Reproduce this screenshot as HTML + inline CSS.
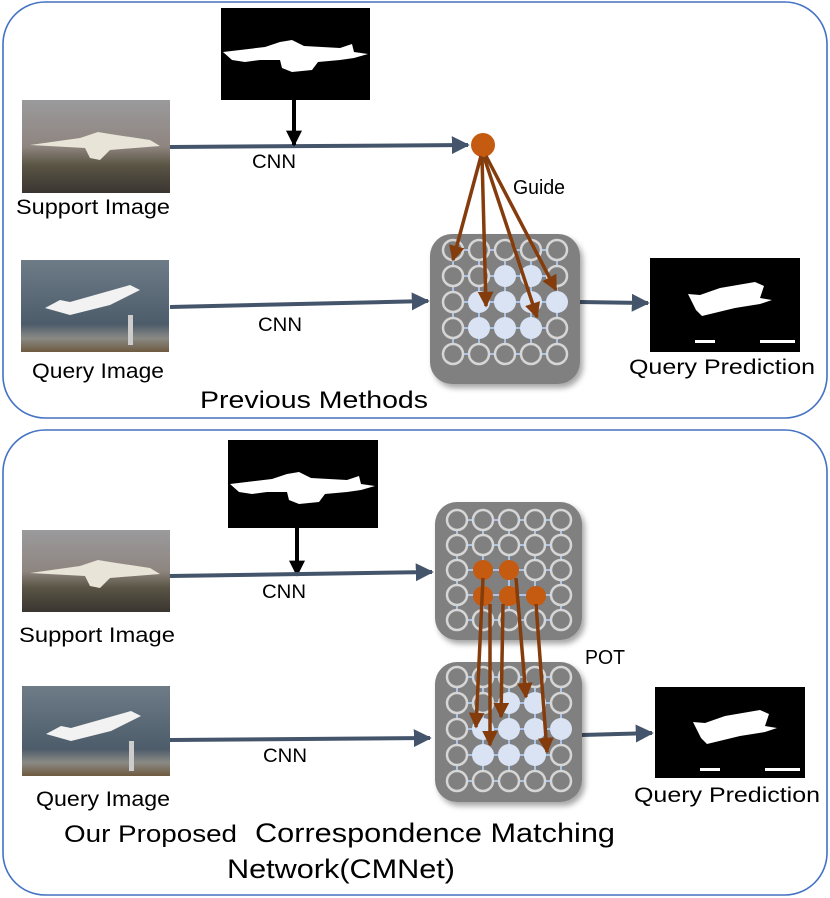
<!DOCTYPE html>
<html><head><meta charset="utf-8"><style>html,body{margin:0;padding:0;background:#fff}svg{display:block}text{font-family:"Liberation Sans","DejaVu Sans",sans-serif;fill:#000}</style></head><body>
<svg width="830" height="898" viewBox="0 0 830 898" xmlns="http://www.w3.org/2000/svg">
<defs>
<marker id="ab" viewBox="0 0 10 10" refX="9" refY="5" markerWidth="4.5" markerHeight="4.5" orient="auto"><path d="M0,0L10,5L0,10z" fill="#44546a"/></marker>
<marker id="ak" viewBox="0 0 10 10" refX="9" refY="5" markerWidth="4" markerHeight="4" orient="auto"><path d="M0,0L10,5L0,10z" fill="#000"/></marker>
<marker id="ao" viewBox="0 0 10 10" refX="9" refY="5" markerWidth="4.5" markerHeight="4.5" orient="auto"><path d="M0,0L10,5L0,10z" fill="#843c0c"/></marker>
<linearGradient id="sup" x1="0" y1="0" x2="0" y2="1"><stop offset="0" stop-color="#9a9a9c"/><stop offset="0.5" stop-color="#8f8580"/><stop offset="0.7" stop-color="#5a5545"/><stop offset="1" stop-color="#3a3530"/></linearGradient>
<linearGradient id="qry" x1="0" y1="0" x2="0" y2="1"><stop offset="0" stop-color="#6e7c88"/><stop offset="0.7" stop-color="#4d5c6a"/><stop offset="0.85" stop-color="#8a8a85"/><stop offset="1" stop-color="#6e5a40"/></linearGradient>
<filter id="sh" x="-10%" y="-10%" width="130%" height="130%"><feDropShadow dx="3" dy="4" stdDeviation="3" flood-opacity="0.35"/></filter>
</defs>

<rect x="3" y="2" width="824" height="416" rx="42" fill="none" stroke="#4472c4" stroke-width="1.6"/>
<rect x="3" y="430" width="824" height="465" rx="42" fill="none" stroke="#4472c4" stroke-width="1.6"/>

<!-- TOP -->
<rect x="221" y="8" width="149" height="92" fill="#000"/>
<path d="M223,52 L265,47 L280,42 L292,40 L304,46 L340,48 L352,44 L354,52 L368,54 L354,58 L340,60 L318,62 L312,70 L292,72 L282,68 L280,60 L260,60 L245,62 L232,60 Z" fill="#fff"/>
<rect x="22" y="100" width="148" height="93" fill="url(#sup)"/>
<path d="M30,145 L80,138 L98,132 L110,134 L150,140 L160,146 L110,150 L100,160 L90,158 L85,148 Z" fill="#e8e4d8"/>
<rect x="21" y="260" width="148" height="92" fill="url(#qry)"/>
<path d="M45,308 L60,300 L70,302 L130,285 L140,290 L110,305 L70,315 Z" fill="#f2f2f2"/>
<rect x="128" y="315" width="5" height="30" fill="#ccc"/>
<line x1="170" y1="147" x2="468" y2="145" stroke="#44546a" stroke-width="4" marker-end="url(#ab)"/>
<line x1="294" y1="100" x2="294" y2="145" stroke="#000" stroke-width="4" marker-end="url(#ak)"/>
<text x="252" y="168" font-size="19" textLength="44" lengthAdjust="spacingAndGlyphs">CNN</text>
<line x1="170" y1="307" x2="428" y2="301" stroke="#44546a" stroke-width="4" marker-end="url(#ab)"/>
<text x="258" y="331" font-size="19" textLength="44" lengthAdjust="spacingAndGlyphs">CNN</text>
<line x1="580" y1="302" x2="648" y2="303" stroke="#44546a" stroke-width="4" marker-end="url(#ab)"/>
<rect x="650" y="258" width="150" height="94" fill="#000"/>
<path d="M688,294 L700,295 L720,288 L755,282 L764,286 L760,298 L772,300 L760,304 L735,308 L702,316 L696,310 Z" fill="#fff"/>
<rect x="695" y="340" width="20" height="3" fill="#fff"/><rect x="760" y="340" width="35" height="3" fill="#fff"/>
<text x="16" y="214" font-size="21" textLength="154" lengthAdjust="spacingAndGlyphs">Support Image</text>
<text x="32" y="378" font-size="21" textLength="132" lengthAdjust="spacingAndGlyphs">Query Image</text>
<text x="629" y="374" font-size="21" textLength="186" lengthAdjust="spacingAndGlyphs">Query Prediction</text>
<text x="200" y="408" font-size="24" textLength="228" lengthAdjust="spacingAndGlyphs">Previous Methods</text>
<text x="513" y="194" font-size="20" textLength="52" lengthAdjust="spacingAndGlyphs">Guide</text>

<rect x="430" y="234" width="150" height="150" rx="22" fill="#808080" filter="url(#sh)"/>
<g stroke="#a9c4e8" stroke-width="2">
<line x1="453" y1="250" x2="557" y2="250"/><line x1="453" y1="276" x2="557" y2="276"/><line x1="453" y1="302" x2="557" y2="302"/><line x1="453" y1="328" x2="557" y2="328"/><line x1="453" y1="354" x2="557" y2="354"/>
<line x1="453" y1="250" x2="453" y2="354"/><line x1="479" y1="250" x2="479" y2="354"/><line x1="505" y1="250" x2="505" y2="354"/><line x1="531" y1="250" x2="531" y2="354"/><line x1="557" y1="250" x2="557" y2="354"/>
</g>
<g fill="#808080" stroke="#d6d6d6" stroke-width="2.5">
<circle cx="453" cy="250" r="10"/><circle cx="479" cy="250" r="10"/><circle cx="505" cy="250" r="10"/><circle cx="531" cy="250" r="10"/><circle cx="557" cy="250" r="10"/>
<circle cx="453" cy="276" r="10"/><circle cx="479" cy="276" r="10"/><circle cx="557" cy="276" r="10"/>
<circle cx="453" cy="302" r="10"/>
<circle cx="453" cy="328" r="10"/><circle cx="557" cy="328" r="10"/>
<circle cx="453" cy="354" r="10"/><circle cx="479" cy="354" r="10"/><circle cx="505" cy="354" r="10"/><circle cx="531" cy="354" r="10"/><circle cx="557" cy="354" r="10"/>
</g>
<g fill="#dae3f3">
<circle cx="505" cy="276" r="11"/><circle cx="531" cy="276" r="11"/>
<circle cx="479" cy="302" r="11"/><circle cx="505" cy="302" r="11"/><circle cx="531" cy="302" r="11"/><circle cx="557" cy="302" r="11"/>
<circle cx="479" cy="328" r="11"/><circle cx="505" cy="328" r="11"/><circle cx="531" cy="328" r="11"/>
</g>
<circle cx="483" cy="145" r="12" fill="#c55a11"/>
<g stroke="#843c0c" stroke-width="3.5" fill="none">
<line x1="481" y1="156" x2="453" y2="260" marker-end="url(#ao)"/>
<line x1="482" y1="157" x2="486" y2="306" marker-end="url(#ao)"/>
<line x1="484" y1="157" x2="537" y2="317" marker-end="url(#ao)"/>
<line x1="486" y1="156" x2="556" y2="290" marker-end="url(#ao)"/>
</g>

<!-- BOTTOM -->
<rect x="228" y="440" width="150" height="88" fill="#000"/>
<path d="M230,484 L272,479 L287,474 L299,472 L311,478 L347,480 L359,476 L361,484 L375,486 L361,490 L347,492 L325,494 L319,502 L299,504 L289,500 L287,492 L267,492 L252,494 L239,492 Z" fill="#fff"/>
<line x1="297" y1="528" x2="297" y2="575" stroke="#000" stroke-width="4" marker-end="url(#ak)"/>
<rect x="22" y="530" width="148" height="82" fill="url(#sup)"/>
<path d="M30,573 L80,566 L98,560 L110,562 L150,568 L160,574 L110,578 L100,588 L90,586 L85,576 Z" fill="#e8e4d8"/>
<line x1="170" y1="576" x2="432" y2="572" stroke="#44546a" stroke-width="4" marker-end="url(#ab)"/>
<text x="262" y="598" font-size="19" textLength="44" lengthAdjust="spacingAndGlyphs">CNN</text>
<text x="19" y="642" font-size="21" textLength="156" lengthAdjust="spacingAndGlyphs">Support Image</text>
<rect x="22" y="686" width="148" height="90" fill="url(#qry)"/>
<path d="M46,734 L61,726 L71,728 L131,711 L141,716 L111,731 L71,741 Z" fill="#f2f2f2"/>
<rect x="129" y="741" width="5" height="30" fill="#ccc"/>
<line x1="170" y1="740" x2="430" y2="738" stroke="#44546a" stroke-width="4" marker-end="url(#ab)"/>
<text x="263" y="762" font-size="19" textLength="44" lengthAdjust="spacingAndGlyphs">CNN</text>
<text x="36" y="806" font-size="21" textLength="134" lengthAdjust="spacingAndGlyphs">Query Image</text>
<line x1="582" y1="735" x2="652" y2="733" stroke="#44546a" stroke-width="4" marker-end="url(#ab)"/>
<rect x="655" y="687" width="150" height="91" fill="#000"/>
<path d="M693,722 L705,723 L725,716 L760,710 L769,714 L765,726 L777,728 L765,732 L740,736 L707,744 L701,738 Z" fill="#fff"/>
<rect x="700" y="768" width="20" height="3" fill="#fff"/><rect x="765" y="768" width="35" height="3" fill="#fff"/>
<text x="634" y="802" font-size="21" textLength="186" lengthAdjust="spacingAndGlyphs">Query Prediction</text>
<text x="585" y="664" font-size="20" textLength="40" lengthAdjust="spacingAndGlyphs">POT</text>
<text x="64" y="842" font-size="24" textLength="173" lengthAdjust="spacingAndGlyphs">Our Proposed</text>
<text x="255" y="842" font-size="27" textLength="360" lengthAdjust="spacingAndGlyphs">Correspondence Matching</text>
<text x="227" y="878" font-size="27" textLength="228" lengthAdjust="spacingAndGlyphs">Network(CMNet)</text>

<rect x="435" y="502" width="147" height="138" rx="22" fill="#808080" filter="url(#sh)"/>
<g stroke="#a9c4e8" stroke-width="2">
<line x1="457" y1="520" x2="561" y2="520"/><line x1="457" y1="545" x2="561" y2="545"/><line x1="457" y1="570" x2="561" y2="570"/><line x1="457" y1="595" x2="561" y2="595"/><line x1="457" y1="620" x2="561" y2="620"/>
<line x1="457" y1="520" x2="457" y2="620"/><line x1="483" y1="520" x2="483" y2="620"/><line x1="509" y1="520" x2="509" y2="620"/><line x1="535" y1="520" x2="535" y2="620"/><line x1="561" y1="520" x2="561" y2="620"/>
</g>
<g fill="#808080" stroke="#d6d6d6" stroke-width="2.5">
<circle cx="457" cy="520" r="10"/><circle cx="483" cy="520" r="10"/><circle cx="509" cy="520" r="10"/><circle cx="535" cy="520" r="10"/><circle cx="561" cy="520" r="10"/>
<circle cx="457" cy="545" r="10"/><circle cx="483" cy="545" r="10"/><circle cx="509" cy="545" r="10"/><circle cx="535" cy="545" r="10"/><circle cx="561" cy="545" r="10"/>
<circle cx="457" cy="570" r="10"/><circle cx="535" cy="570" r="10"/><circle cx="561" cy="570" r="10"/>
<circle cx="457" cy="595" r="10"/><circle cx="561" cy="595" r="10"/>
<circle cx="457" cy="620" r="10"/><circle cx="483" cy="620" r="10"/><circle cx="509" cy="620" r="10"/><circle cx="535" cy="620" r="10"/><circle cx="561" cy="620" r="10"/>
</g>
<g fill="#c55a11">
<circle cx="483" cy="570" r="10"/><circle cx="509" cy="570" r="10"/>
<circle cx="483" cy="596" r="10"/><circle cx="509" cy="596" r="10"/><circle cx="536" cy="596" r="10"/>
</g>
<rect x="435" y="662" width="147" height="140" rx="22" fill="#808080" filter="url(#sh)"/>
<g stroke="#a9c4e8" stroke-width="2">
<line x1="457" y1="677" x2="561" y2="677"/><line x1="457" y1="703" x2="561" y2="703"/><line x1="457" y1="729" x2="561" y2="729"/><line x1="457" y1="755" x2="561" y2="755"/><line x1="457" y1="781" x2="561" y2="781"/>
<line x1="457" y1="677" x2="457" y2="781"/><line x1="483" y1="677" x2="483" y2="781"/><line x1="509" y1="677" x2="509" y2="781"/><line x1="535" y1="677" x2="535" y2="781"/><line x1="561" y1="677" x2="561" y2="781"/>
</g>
<g fill="#808080" stroke="#d6d6d6" stroke-width="2.5">
<circle cx="457" cy="677" r="10"/><circle cx="483" cy="677" r="10"/><circle cx="509" cy="677" r="10"/><circle cx="535" cy="677" r="10"/><circle cx="561" cy="677" r="10"/>
<circle cx="457" cy="703" r="10"/><circle cx="483" cy="703" r="10"/><circle cx="561" cy="703" r="10"/>
<circle cx="457" cy="729" r="10"/>
<circle cx="457" cy="755" r="10"/><circle cx="561" cy="755" r="10"/>
<circle cx="457" cy="781" r="10"/><circle cx="483" cy="781" r="10"/><circle cx="509" cy="781" r="10"/><circle cx="535" cy="781" r="10"/><circle cx="561" cy="781" r="10"/>
</g>
<g fill="#dae3f3">
<circle cx="509" cy="703" r="11"/><circle cx="535" cy="703" r="11"/>
<circle cx="483" cy="729" r="11"/><circle cx="509" cy="729" r="11"/><circle cx="535" cy="729" r="11"/><circle cx="561" cy="729" r="11"/>
<circle cx="483" cy="755" r="11"/><circle cx="509" cy="755" r="11"/><circle cx="535" cy="755" r="11"/>
</g>
<g stroke="#843c0c" stroke-width="3.5" fill="none">
<line x1="483" y1="578" x2="476" y2="727" marker-end="url(#ao)"/>
<line x1="490" y1="604" x2="490" y2="745" marker-end="url(#ao)"/>
<line x1="503" y1="604" x2="501" y2="717" marker-end="url(#ao)"/>
<line x1="516" y1="578" x2="526" y2="697" marker-end="url(#ao)"/>
<line x1="536" y1="604" x2="547" y2="752" marker-end="url(#ao)"/>
</g>
</svg>
</body></html>
